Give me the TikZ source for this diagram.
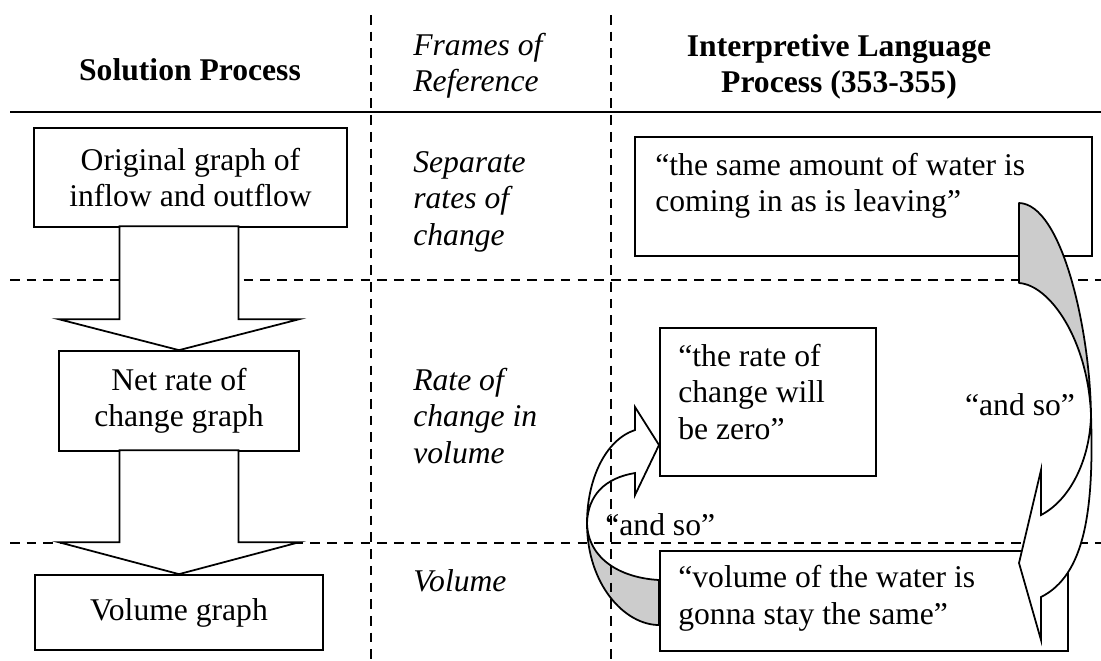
\documentclass[tikz,border=0pt]{standalone}
\usepackage{fontspec}
\setmainfont{Liberation Serif}
\usetikzlibrary{positioning}

\begin{document}
\begin{tikzpicture}[x=0.02cm, y=-0.02cm,
  every node/.style={font=\fontsize{18}{20.7}\selectfont, inner sep=0pt},
  gbox/.style={rectangle, draw, line width=1pt, align=center},
  qbox/.style={rectangle, draw, line width=1pt, anchor=north west},
  qtext/.style={align=left, anchor=north west},
  frameref/.style={font=\fontsize{18}{20.7}\selectfont\itshape, align=left, anchor=north west},
  colhead/.style={font=\fontsize{18}{20.7}\selectfont\bfseries, align=center},
  rowline/.style={dash pattern=on 5.5pt off 4pt, line width=0.8pt},
  bigarrow/.style={draw, fill=white, line width=1pt, line join=miter},
  ribbonback/.style={draw, fill=black!20, line width=1pt, line join=round},
  ribbonfront/.style={draw, fill=white, line width=1pt, line join=miter}]
  \useasboundingbox (0,0) rectangle (1101,660);

  \node[colhead, anchor=base] (hsol) at (190,80) {Solution Process};
  \node[frameref] (hframe) at (413,33) {Frames of\\Reference};
  \node[colhead, anchor=north] (hlang) at (839,34) {Interpretive Language\\Process (353-355)};
  \draw[line width=1.2pt] (10,112) -- (1101,112);

  \draw[ribbonback] (659,580) .. controls (622,578) and (588,560) .. (587,523)
    .. controls (587,585) and (625,625) .. (659,625) -- cycle;
  \draw[ribbonfront] (587,523) .. controls (587,480) and (605,440) .. (635,430) -- (635,407)
    -- (659,445) -- (635,495) -- (635,473) .. controls (605,478) and (588,495) .. (587,523) -- cycle;

  \draw[rowline] (10,280) -- (1101,280);
  \draw[rowline] (10,543) -- (1101,543);
  \draw[rowline] (371,15) -- (371,660);
  \draw[rowline] (611,15) -- (611,660);

  \node[gbox, minimum width=6.26cm, minimum height=1.98cm] (orig) at (190.5,177.5) {Original graph of\\inflow and outflow};
  \node[gbox, minimum width=4.8cm, minimum height=2cm] (net) at (179,401) {Net rate of\\change graph};
  \node[gbox, minimum width=5.76cm, minimum height=1.5cm] (vol) at (179,612.5) {Volume graph};
  \draw[bigarrow] (net.north) -- ++(120.5,-31) -- ++(-61,0) -- ++(0,-93) -- ++(-119,0) -- ++(0,93) -- ++(-61,0) -- cycle;
  \draw[bigarrow] (vol.north) -- ++(120.5,-32) -- ++(-61,0) -- ++(0,-92) -- ++(-119,0) -- ++(0,92) -- ++(-61,0) -- cycle;

  \node[frameref] (fr1) at (413,151) {Separate\\rates of\\change};
  \node[frameref] (fr2) at (413,368) {Rate of\\change in\\volume};
  \node[frameref] (fr3) at (413,569) {Volume};

  \node[qbox, minimum width=9.14cm, minimum height=2.38cm] (q1) at (634,136) {};
  \node[qtext] (q1t) at ([shift={(21,17)}]q1.north west) {“the same amount of water is\\coming in as is leaving”};
  \node[qbox, minimum width=4.32cm, minimum height=2.96cm] (q2) at (659,327) {};
  \node[qtext] (q2t) at ([shift={(19,17)}]q2.north west) {“the rate of\\change will\\be zero”};
  \node[qbox, minimum width=8.16cm, minimum height=2cm] (q3) at (659,550) {};
  \node[qtext] (q3t) at ([shift={(19,15)}]q3.north west) {“volume of the water is\\gonna stay the same”};

  \draw[ribbonback] (1019,203) .. controls (1062,204) and (1090,330) .. (1091,415)
    .. controls (1088,340) and (1050,285) .. (1019,283) -- cycle;
  \draw[ribbonfront] (1091,415) .. controls (1094,510) and (1085,575) .. (1041,597) -- (1041,640)
    -- (1019,563) -- (1041,470) -- (1041,515) .. controls (1070,500) and (1090,460) .. (1091,415) -- cycle;

  \node (so1) at (1020,405) {“and so”};
  \node[anchor=base west] (so2) at (605,535) {“and so”};
\end{tikzpicture}
\end{document}
